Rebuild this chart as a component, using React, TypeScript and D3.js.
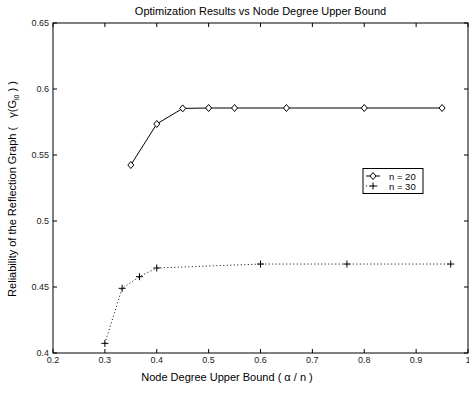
import React from 'react';
import * as d3 from 'd3';

// n = 20 series
const xs20 = [0.35, 0.4, 0.45, 0.5, 0.55, 0.65, 0.8, 0.95];
const ys20 = [0.5424, 0.5735, 0.5853, 0.5856, 0.5856, 0.5856, 0.5856, 0.5856];
// n = 30 series
const xs30 = [0.3, 0.3333, 0.3667, 0.4, 0.6, 0.7667, 0.9667];
const ys30 = [0.4073, 0.449, 0.4578, 0.4644, 0.4674, 0.4674, 0.4674];

const xTicks = [0.2, 0.3, 0.4, 0.5, 0.6, 0.7, 0.8, 0.9, 1];
const yTicks = [0.4, 0.45, 0.5, 0.55, 0.6, 0.65];

const W = 469;
const H = 393;
const left = 53, right = 468, top = 23, bottom = 353;

const App = () => {
  const x = d3.scaleLinear().domain([0.2, 1]).range([left, right]);
  const y = d3.scaleLinear().domain([0.4, 0.65]).range([bottom, top]);

  const pts20 = xs20.map((v, i) => [x(v), y(ys20[i])] as [number, number]);
  const pts30 = xs30.map((v, i) => [x(v), y(ys30[i])] as [number, number]);
  const line = d3.line();

  const font = 'Liberation Sans, Arial, Helvetica, sans-serif';
  const diamond = (cx: number, cy: number, k: number) => (
    <path key={k} d={`M${cx},${cy - 3.5}L${cx + 3},${cy}L${cx},${cy + 3.5}L${cx - 3},${cy}Z`}
      fill="white" stroke="black" strokeWidth={1} />
  );
  const plus = (cx: number, cy: number, k: number) => (
    <path key={k} d={`M${cx - 3.5},${cy}H${cx + 3.5}M${cx},${cy - 3.5}V${cy + 3.5}`}
      stroke="black" strokeWidth={1} />
  );

  return (
    <svg width={W} height={H} style={{ position: 'absolute', left: 0, top: 0, background: 'white' }}
      fontFamily={font}>
      <rect x={0} y={0} width={W} height={H} fill="white" />
      {/* title */}
      <text x={(left + right) / 2} y={15} fontSize={11} textAnchor="middle" fill="#000">
        Optimization Results vs Node Degree Upper Bound
      </text>

      {/* ticks, inside on all sides */}
      {xTicks.map(t => (
        <g key={'x' + t}>
          <line x1={x(t)} x2={x(t)} y1={bottom} y2={bottom - 4} stroke="black" />
          <line x1={x(t)} x2={x(t)} y1={top} y2={top + 4} stroke="black" />
          <text x={x(t)} y={bottom + 10} fontSize={9} textAnchor="middle" fill="#222">{t}</text>
        </g>
      ))}
      {yTicks.map(t => (
        <g key={'y' + t}>
          <line x1={left} x2={left + 4} y1={y(t)} y2={y(t)} stroke="black" />
          <line x1={right} x2={right - 4} y1={y(t)} y2={y(t)} stroke="black" />
          <text x={left - 4} y={y(t) + 2.5} fontSize={9} textAnchor="end" fill="#222">{t}</text>
        </g>
      ))}

      <rect x={left} y={top} width={right - left} height={bottom - top} fill="none" stroke="black" strokeWidth={1} />

      {/* series */}
      <path d={line(pts20) || ''} fill="none" stroke="black" strokeWidth={1} />
      <path d={line(pts30) || ''} fill="none" stroke="black" strokeWidth={1} strokeDasharray="1,2.5" />
      {pts20.map((p, i) => diamond(p[0], p[1], i))}
      {pts30.map((p, i) => plus(p[0], p[1], i))}

      {/* legend */}
      <rect x={363} y={168.5} width={60} height={25} fill="white" stroke="black" strokeWidth={1} />
      <line x1={366} x2={380} y1={176} y2={176} stroke="black" />
      {diamond(373, 176, 100)}
      <text x={389} y={179.5} fontSize={9.5} fill="#000">n = 20</text>
      <line x1={366} x2={380} y1={186} y2={186} stroke="black" strokeDasharray="1,2.5" />
      {plus(373, 186, 101)}
      <text x={389} y={189.5} fontSize={9.5} fill="#000">n = 30</text>

      {/* axis labels */}
      <text x={227} y={381} fontSize={11} textAnchor="middle" fill="#000" style={{ whiteSpace: 'pre' }}>
        {'Node Degree Upper Bound ( α / n )'}
      </text>
      <text transform={`translate(16,189) rotate(-90)`} fontSize={11} textAnchor="middle" fill="#000"
        style={{ whiteSpace: 'pre' }}>
        {'Reliability of the Reflection Graph (   γ(G'}<tspan fontSize={7} dy={3}>l0</tspan><tspan dy={-3}>{' ) )'}</tspan>
      </text>
    </svg>
  );
};

export default App;
